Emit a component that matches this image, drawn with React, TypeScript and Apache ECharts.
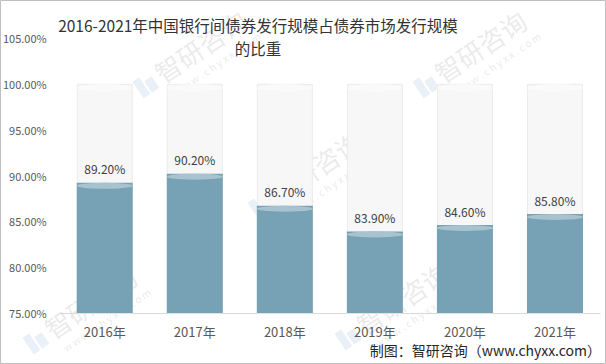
import React, { useEffect, useRef } from "react";
import * as echarts from "echarts";

const categories = ["2016年", "2017年", "2018年", "2019年", "2020年", "2021年"];
const values = [89.2, 90.2, 86.7, 83.9, 84.6, 85.8];
const backgroundValues = [100, 100, 100, 100, 100, 100];
const yMin = 75;
const yMax = 105;
const yInterval = 5;
const titleLines = ["2016-2021年中国银行间债券发行规模占债券市场发行规模", "的比重"];
const sourceText = "制图：智研咨询（www.chyxx.com）";
const watermarkCenters = [
  [200, 46],
  [480, 46],
  [315, 167],
  [90, 302],
  [402, 298],
];

const FONT = "'Noto Sans CJK SC', 'Noto Sans', sans-serif";

function watermark(cx: number, cy: number) {
  return {
    type: "group",
    x: cx,
    y: cy,
    rotation: (34 * Math.PI) / 180,
    silent: true,
    z: 100,
    children: [
      {
        type: "text",
        x: 0,
        y: 0,
        style: {
          text: "智研咨询",
          font: `26px ${FONT}`,
          fill: "rgba(160,160,160,0.22)",
          align: "center",
          verticalAlign: "middle",
        },
      },
      {
        type: "text",
        x: 4,
        y: 24,
        style: {
          text: "w w w . c h y x x . c o m",
          font: `10px ${FONT}`,
          fill: "rgba(160,160,160,0.25)",
          align: "center",
          verticalAlign: "middle",
        },
      },
      {
        type: "rect",
        shape: { x: -76, y: -8, width: 8, height: 20 },
        style: { fill: "rgba(150,180,215,0.2)" },
      },
      {
        type: "rect",
        shape: { x: -66, y: -2, width: 9, height: 14 },
        style: { fill: "rgba(150,180,215,0.2)" },
      },
    ],
  };
}

export default function App() {
  const ref = useRef<HTMLDivElement>(null);
  useEffect(() => {
    document.body.style.margin = "0";
    const chart = echarts.init(ref.current!, null, { renderer: "svg" });
    const barW = 56;
    chart.setOption({
      animation: false,
      backgroundColor: "#ffffff",
      grid: { left: 56, right: 6, top: 38, bottom: 51 },
      xAxis: {
        type: "category",
        data: categories,
        axisLine: { lineStyle: { color: "#D9D9D9" } },
        axisTick: { show: false },
        axisLabel: { color: "#595959", fontSize: 13, margin: 12, fontFamily: FONT },
      },
      yAxis: {
        type: "value",
        min: yMin,
        max: yMax,
        interval: yInterval,
        splitLine: { show: false },
        axisLine: { show: false },
        axisTick: { show: false },
        axisLabel: {
          color: "#595959",
          fontSize: 11,
          margin: 13,
          fontFamily: FONT,
          formatter: (v: number) => v.toFixed(2) + "%",
        },
      },
      graphic: [
        {
          type: "rect",
          shape: { x: 0.5, y: 0.5, width: 605, height: 363 },
          style: { fill: "none", stroke: "#BFBFBF", lineWidth: 1 },
          silent: true,
          z: 101,
        },
        {
          type: "text",
          x: 258,
          y: 25,
          z: 102,
          style: {
            text: titleLines[0],
            font: `15.5px ${FONT}`,
            fill: "#333333",
            align: "center",
            verticalAlign: "middle",
          },
        },
        {
          type: "text",
          x: 258,
          y: 48,
          z: 102,
          style: {
            text: titleLines[1],
            font: `15.5px ${FONT}`,
            fill: "#333333",
            align: "center",
            verticalAlign: "middle",
          },
        },
        {
          type: "text",
          x: 601,
          y: 350,
          z: 102,
          style: {
            text: sourceText,
            font: `14px ${FONT}`,
            fill: "#262626",
            align: "right",
            verticalAlign: "middle",
          },
        },
        ...watermarkCenters.map(([x, y]) => watermark(x, y)),
      ],
      series: [
        {
          type: "bar",
          data: backgroundValues,
          barWidth: barW,
          barGap: "-100%",
          itemStyle: { color: "#F7F7F7", borderColor: "#EBEBEB", borderWidth: 1 },
          z: 1,
        },
        {
          type: "pictorialBar",
          data: backgroundValues,
          symbol: "circle",
          symbolSize: [barW, 8],
          symbolPosition: "end",
          itemStyle: { color: "#FAFAFA", borderColor: "#E6E6E6", borderWidth: 1 },
          z: 2,
        },
        {
          type: "bar",
          data: values,
          barWidth: barW,
          barGap: "-100%",
          itemStyle: { color: "#77A1B4" },
          label: {
            show: true,
            position: "top",
            distance: 8,
            color: "#404040",
            fontSize: 12,
            fontFamily: FONT,
            formatter: (p: any) => Number(p.value).toFixed(2) + "%",
          },
          z: 3,
        },
        {
          type: "pictorialBar",
          data: values,
          symbol: "circle",
          symbolSize: [barW, 6],
          symbolPosition: "end",
          itemStyle: { color: "#A6C3CF" },
          z: 4,
        },
        {
          type: "pictorialBar",
          data: values,
          symbol: "circle",
          symbolSize: [barW, 6],
          symbolPosition: "start",
          symbolOffset: [0, "50%"],
          itemStyle: { color: "#77A1B4" },
          z: 4,
        },
      ],
    });
    return () => chart.dispose();
  }, []);
  return <div ref={ref} style={{ width: 606, height: 364 }} />;
}
